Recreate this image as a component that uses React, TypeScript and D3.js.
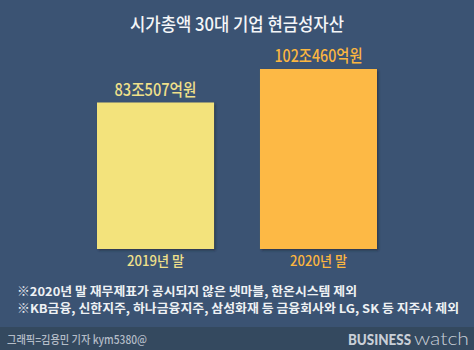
import React from "react";
import * as d3 from "d3";

const categories = ["2019년 말", "2020년 말"];
const values = [83.0507, 102.046];
const valueLabels = ["83조507억원", "102조460억원"];
const barColors = ["#f3e37c", "#fdb945"];
const labelColors = ["#f0e08a", "#fbb640"];
const title = "시가총액 30대 기업 현금성자산";
const notes = [
  "※2020년 말 재무제표가 공시되지 않은 넷마블, 한온시스템 제외",
  "※KB금융, 신한지주, 하나금융지주, 삼성화재 등 금융회사와 LG, SK 등 지주사 제외",
];
const credit = "그래픽=김용민 기자 kym5380@";

const W = 474;
const H = 350;
const KR = "'Noto Sans CJK KR', 'Noto Sans', sans-serif";

export default function App() {
  const x = d3.scaleBand<string>().domain(categories).range([97, 377]).paddingInner(0.282).paddingOuter(0);
  const y = d3.scaleLinear().domain([0, values[1]]).range([249, 69]);
  return (
    <svg width={W} height={H} style={{ position: "absolute", left: 0, top: 0 }}>
      <defs>
        <filter id="sh" x="-10%" y="-10%" width="130%" height="130%">
          <feDropShadow dx="1.5" dy="1.5" stdDeviation="1.2" floodColor="#1a2535" floodOpacity="0.6" />
        </filter>
      </defs>
      <rect x={0} y={0} width={W} height={H} fill="#3b5373" />
      <rect x={0} y={327} width={W} height={H - 327} fill="#34495f" />
      <text x={237} y={31} textAnchor="middle" fill="#f4f6f8" fontFamily={KR} fontSize={18} fontWeight={500} textLength={214} lengthAdjust="spacingAndGlyphs">
        {title}
      </text>
      {categories.map((c, i) => {
        const bx = x(c)!;
        const bw = x.bandwidth();
        const cx = bx + bw / 2;
        return (
          <g key={c}>
            <rect x={bx} y={y(values[i])} width={bw} height={y(0) - y(values[i])} fill={barColors[i]} filter="url(#sh)" />
            <text x={cx} y={y(values[i]) - 7} textAnchor="middle" fill={labelColors[i]} fontFamily={KR} fontSize={17} fontWeight={500} textLength={i === 0 ? 82 : 88} lengthAdjust="spacingAndGlyphs">
              {valueLabels[i]}
            </text>
            <text x={cx} y={266} textAnchor="middle" fill={labelColors[i]} fontFamily={KR} fontSize={14} fontWeight={500} textLength={57} lengthAdjust="spacingAndGlyphs">
              {c}
            </text>
          </g>
        );
      })}
      {notes.map((n, i) => (
        <text key={i} x={17} y={296 + i * 17} fill="#eef1f4" fontFamily={KR} fontSize={12} fontWeight={600} textLength={i === 0 ? 340 : 442} lengthAdjust="spacingAndGlyphs">
          {n}
        </text>
      ))}
      <text x={7} y={344} fill="#b4bdc8" fontFamily={KR} fontSize={11.5} fontWeight={500} textLength={140} lengthAdjust="spacingAndGlyphs">
        {credit}
      </text>
      <text x={348} y={345} fill="#c9cfd7" fontFamily="Lato, 'DejaVu Sans', sans-serif" fontSize={15} fontWeight={900} textLength={63} lengthAdjust="spacingAndGlyphs">
        BUSINESS
      </text>
      <text x={414} y={345} fill="#c9cfd7" fontFamily="Lato, 'DejaVu Sans', sans-serif" fontSize={17} fontWeight={300} textLength={55} lengthAdjust="spacingAndGlyphs">
        watch
      </text>
    </svg>
  );
}
